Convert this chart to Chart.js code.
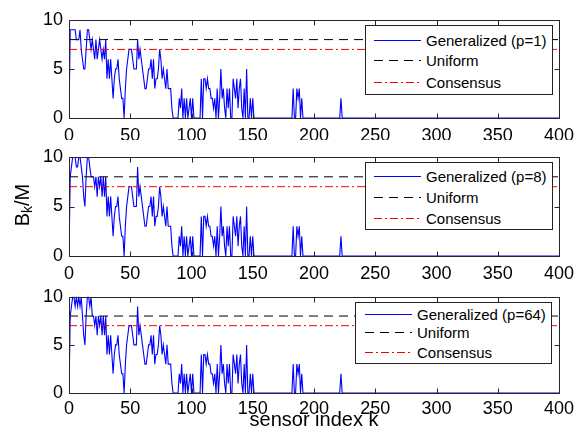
<!DOCTYPE html>
<html><head><meta charset="utf-8">
<script src="https://cdn.jsdelivr.net/npm/chart.js@4/dist/chart.umd.min.js"></script>
<style>
html,body{margin:0;padding:0;background:#fff;}
#wrap{position:relative;width:586px;height:438px;overflow:hidden;font-family:"Liberation Sans",Arial,sans-serif;}
canvas{position:absolute;left:0;}
.leg{position:absolute;box-sizing:border-box;border:1px solid #222;background:#fff;color:#000;font-size:15px;}
.row{position:absolute;left:0;height:18px;line-height:18px;white-space:nowrap;width:100%;}
.row svg{position:absolute;top:7px;}
.row span{position:absolute;top:0;}
#ylab{position:absolute;left:-28px;top:193px;width:100px;height:24px;line-height:24px;text-align:center;transform:rotate(-90deg);font-size:20px;color:#000;}
#ylab sub{font-size:14px;vertical-align:-3px;line-height:0;}
</style></head>
<body><div id="wrap">
<canvas id="c1" width="586" height="140" style="top:0px"></canvas>
<canvas id="c2" width="586" height="140" style="top:140px"></canvas>
<canvas id="c3" width="586" height="158" style="top:280px"></canvas>
<div id="ylab">B<sub>k</sub>/M</div>
</div>
<script>
// ---- data ----
const kMin = 0, kMax = 400;
const xTicks = [0, 50, 100, 150, 200, 250, 300, 350, 400];
const yTicks = [0, 5, 10];
const uniformLevel = 8;
const consensusLevel = 7;
const seriesLabels = ["Generalized (p=1)", "Generalized (p=8)", "Generalized (p=64)"];
const refLabels = ["Uniform", "Consensus"];
// values for k = 0,1,2,... (series returns to 0 and stays there up to kMax)
const gen1 = [
 0,9,9,9,9,9,8,8,8,9, 7,6,5,5,7,9,9,8,7,8, 7,6,8,6,7,8,7,6,7,6,
 8,4,6,4,6,4,2,4,5,5, 6,4,3,2,2,0,3,5,6,7, 7,7,6,5,5,5,8,6,7,6,
 5,4,3,3,4,5,5,6,4,6, 3,4,4,5,7,6,4,5,4,3, 5,3,3,3,1,0,0,0,0,0,
 2,1,3,0,2,0,2,0,1,2, 0,2,0,0,0,0,0,0,4,0, 4,4,3,4,3,3,2,2,1,2,
 0,3,0,2,5,2,3,1,0,3, 1,3,0,0,4,3,2,4,1,3, 4,1,0,3,0,5,0,0,2,0,
 2,0,0,0,0,0,0,0,0,0, 0,0,0,0,0,0,0,0,0,0, 0,0,0,0,0,0,0,0,0,0,
 0,0,0,3,0,0,3,2,3,0, 2,0,0,0,0,0,0,0,0,0, 0,0,0,0,0,0,0,0,0,0,
 0,0,0,0,0,0,0,0,0,0, 0,0,2,0];
const gen8 = [
 0,8,9,10,10,10,9,9,10,10, 9,8,6,5,8,10,10,9,8,8, 8,7,8,6,8,7,8,6,8,6,
 8,4,6,4,6,4,2,4,5,5, 6,4,3,2,2,0,3,5,6,7, 7,7,6,5,5,5,9,6,7,6,
 5,4,3,3,4,5,5,6,4,6, 3,4,4,5,7,6,4,5,4,3, 5,3,3,3,1,0,0,0,0,0,
 2,1,3,0,2,0,2,0,1,2, 0,2,0,0,0,0,0,0,4,0, 4,4,3,4,3,3,2,2,1,2,
 0,3,0,2,5,2,3,1,0,3, 1,3,0,0,4,3,2,4,1,3, 4,1,0,3,0,5,0,0,2,0,
 2,0,0,0,0,0,0,0,0,0, 0,0,0,0,0,0,0,0,0,0, 0,0,0,0,0,0,0,0,0,0,
 0,0,0,3,0,0,3,2,3,0, 2,0,0,0,0,0,0,0,0,0, 0,0,0,0,0,0,0,0,0,0,
 0,0,0,0,0,0,0,0,0,0, 0,0,2,0];
const gen64 = [
 0,8,9,10,10,9,10,9,10,9, 10,8,6,5,8,10,10,9,10,8, 8,7,8,6,8,7,8,6,8,6,
 8,4,6,4,6,4,2,4,5,5, 6,4,3,2,2,0,3,5,6,7, 7,7,6,5,5,5,9,6,7,6,
 5,4,3,3,4,5,5,6,4,6, 3,4,4,5,7,6,4,5,4,3, 5,3,3,3,1,0,0,0,0,0,
 2,1,3,0,2,0,2,0,1,2, 0,2,0,0,0,0,0,0,4,0, 4,4,3,4,3,3,2,2,1,2,
 0,3,0,2,5,2,3,1,0,3, 1,3,0,0,4,3,2,4,1,3, 4,1,0,3,0,5,0,0,2,0,
 2,0,0,0,0,0,0,0,0,0, 0,0,0,0,0,0,0,0,0,0, 0,0,0,0,0,0,0,0,0,0,
 0,0,0,3,0,0,3,2,3,0, 2,0,0,0,0,0,0,0,0,0, 0,0,0,0,0,0,0,0,0,0,
 0,0,0,0,0,0,0,0,0,0, 0,0,2,0];

// ---- styles ----
const FONT = '"Liberation Sans", Arial, sans-serif';
const BLUE = '#0000ff', BLACK = '#000000', RED = '#ff0000';
const DASH_U = [9, 6], DASH_C = [8, 3, 2, 3];

const framePlugin = {
  id: 'frame',
  afterDraw(chart) {
    const {ctx, chartArea: a, scales: {x, y}} = chart;
    const L = Math.round(a.left) + 0.5, R = Math.round(a.right) + 0.5;
    const T = Math.round(a.top) + 0.5, B = Math.round(a.bottom) + 0.5;
    ctx.save();
    ctx.strokeStyle = '#262626'; ctx.lineWidth = 1; ctx.setLineDash([]);
    ctx.beginPath();
    ctx.rect(L, T, R - L, B - T);
    x.ticks.forEach(t => {
      const p = Math.round(x.getPixelForValue(t.value)) + 0.5;
      ctx.moveTo(p, B); ctx.lineTo(p, B - 5);
      ctx.moveTo(p, T); ctx.lineTo(p, T + 5);
    });
    y.ticks.forEach(t => {
      const p = Math.round(y.getPixelForValue(t.value)) + 0.5;
      ctx.moveTo(L, p); ctx.lineTo(L + 5, p);
      ctx.moveTo(R, p); ctx.lineTo(R - 5, p);
    });
    ctx.stroke();
    ctx.restore();
  }
};

function makeChart(id, series, label, cfg) {
  const pts = series.map((v, i) => ({x: i, y: v}));
  pts.push({x: kMax, y: 0});
  return new Chart(document.getElementById(id), {
    type: 'line',
    data: {datasets: [
      {label: label, data: pts, borderColor: BLUE, borderWidth: 1.1, pointRadius: 0, tension: 0, fill: false, order: 1},
      {label: refLabels[0], data: [{x: kMin, y: uniformLevel}, {x: kMax, y: uniformLevel}], borderColor: BLACK, borderWidth: 1, borderDash: DASH_U, pointRadius: 0, fill: false, order: 0},
      {label: refLabels[1], data: [{x: kMin, y: consensusLevel}, {x: kMax, y: consensusLevel}], borderColor: RED, borderWidth: 1, borderDash: DASH_C, pointRadius: 0, fill: false, order: 0}
    ]},
    options: {
      responsive: false, animation: false, devicePixelRatio: 1,
      layout: {padding: {left: 0, right: 27, top: cfg.top, bottom: 0}},
      plugins: {legend: {display: false}, tooltip: {enabled: false}},
      scales: {
        x: {
          type: 'linear', min: kMin, max: kMax,
          afterBuildTicks: s => { s.ticks = xTicks.map(v => ({value: v})); },
          ticks: {font: {size: 18, family: FONT}, color: '#000', padding: cfg.xpad, maxRotation: 0, autoSkip: false},
          grid: {display: false, drawTicks: false}, border: {display: false},
          title: cfg.title ? {display: true, text: cfg.title, font: {size: 20, family: FONT}, color: '#000', padding: {top: 0, bottom: 6}} : {display: false},
          afterFit: s => { s.height = cfg.xh; }
        },
        y: {
          min: 0, max: 10,
          afterBuildTicks: s => { s.ticks = yTicks.map(v => ({value: v})); },
          ticks: {font: {size: 18, family: FONT}, color: '#000', padding: 6},
          grid: {display: false, drawTicks: false}, border: {display: false},
          afterFit: s => { s.width = 69; }
        }
      }
    },
    plugins: [framePlugin]
  });
}

makeChart('c1', gen1, seriesLabels[0], {top: 20, xh: 22, xpad: 7});
makeChart('c2', gen8, seriesLabels[1], {top: 17, xh: 24, xpad: 7});
makeChart('c3', gen64, seriesLabels[2], {top: 15, xh: 45, xpad: 5, title: 'sensor index k'});

// ---- legends ----
function makeLegend(box, rows, sx0, sx1, tx, label) {
  const d = document.createElement('div');
  d.className = 'leg';
  Object.assign(d.style, {left: box[0] + 'px', top: box[1] + 'px', width: box[2] + 'px', height: box[3] + 'px'});
  const items = [[label, BLUE, null], [refLabels[0], BLACK, DASH_U], [refLabels[1], RED, DASH_C]];
  items.forEach((it, i) => {
    const r = document.createElement('div');
    r.className = 'row';
    r.style.top = (rows[i] - box[1] - 1 - 9) + 'px';
    const w = sx1 - sx0;
    r.innerHTML = '<svg width="' + w + '" height="3" shape-rendering="crispEdges" style="left:' + (sx0 - box[0] - 1) + 'px">' +
      '<line x1="0" y1="1.5" x2="' + w + '" y2="1.5" stroke="' + it[1] + '" stroke-width="1"' +
      (it[2] ? ' stroke-dasharray="' + it[2].join(',') + '"' : '') + '/></svg>' +
      '<span style="left:' + (tx - box[0] - 1) + 'px">' + it[0] + '</span>';
    d.appendChild(r);
  });
  document.getElementById('wrap').appendChild(d);
}
makeLegend([365, 25, 188, 70], [41, 61, 83], 374, 421, 426, seriesLabels[0]);
makeLegend([365, 162, 188, 68], [177, 198, 219], 374, 421, 426, seriesLabels[1]);
makeLegend([355, 302, 197, 62], [315, 333, 353], 365, 412, 417, seriesLabels[2]);
</script>
</body></html>
